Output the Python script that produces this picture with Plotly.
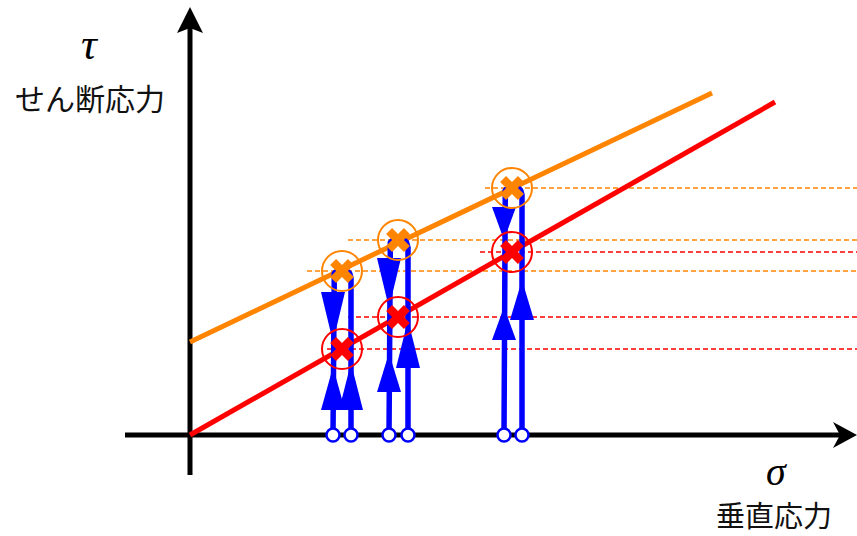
import numpy as np
import plotly.graph_objects as go

# ---- data (diagram units: origin at axis crossing, 1 unit ~ 1 px) ----
sigma_pts = [152, 208, 322]          # normal stress of the three states
tau_red = [86, 118, 183]             # failure envelope (red) points
tau_orange = [164, 195, 247]         # failure envelope (orange) points
red_line_x = [0, 585]
red_line_y = [0, 333]
orange_line_x = [0, 522]
orange_line_y = [93, 342]

loop_left = [143, 199, 314]
loop_right = [161, 218, 332]
loop_top = [166, 197, 249]

# arrow triangles: (x, base, tip)
down_arrows = [(143, 143, 93), (199, 177, 127), (314, 228, 195)]
up_arrows = [(143, 25, 68), (161, 25, 72), (199, 43, 82), (218, 67, 115),
             (314, 95, 128), (332, 115, 155)]

orange_dash_start = [117, 158, 295]
red_dash_start = [137, 158, 290]
dash_end = 667

ORANGE = '#FF8400'
RED = '#FF0000'
BLUE = '#0000FF'

fig = go.Figure()

# dashed guide lines
for y, xs in zip(tau_orange, orange_dash_start):
    fig.add_trace(go.Scatter(x=[xs, dash_end], y=[y, y], mode='lines',
                             line=dict(color=ORANGE, width=1.5, dash='5px,3px'),
                             hoverinfo='skip'))
for y, xs in zip(tau_red, red_dash_start):
    fig.add_trace(go.Scatter(x=[xs, dash_end], y=[y, y], mode='lines',
                             line=dict(color=RED, width=1.5, dash='5px,3px'),
                             hoverinfo='skip'))

# axes
fig.add_trace(go.Scatter(x=[-65, 650], y=[0, 0], mode='lines',
                         line=dict(color='black', width=5), hoverinfo='skip'))
fig.add_trace(go.Scatter(x=[0, 0], y=[-40, 408], mode='lines',
                         line=dict(color='black', width=5), hoverinfo='skip'))
# arrowheads
fig.add_trace(go.Scatter(x=[667, 643, 650, 643, 667], y=[0, 13, 0, -13, 0],
                         mode='lines', fill='toself', fillcolor='black',
                         line=dict(width=0, color='black'), hoverinfo='skip'))
fig.add_trace(go.Scatter(x=[0, -13, 0, 13, 0], y=[428, 402, 407, 402, 428],
                         mode='lines', fill='toself', fillcolor='black',
                         line=dict(width=0, color='black'), hoverinfo='skip'))

# envelopes
fig.add_trace(go.Scatter(x=orange_line_x, y=orange_line_y, mode='lines',
                         line=dict(color=ORANGE, width=5), hoverinfo='skip'))
fig.add_trace(go.Scatter(x=red_line_x, y=red_line_y, mode='lines',
                         line=dict(color=RED, width=5), hoverinfo='skip'))

# blue loops
for xl, xr, top in zip(loop_left, loop_right, loop_top):
    r = (xr - xl) / 2
    xc = (xl + xr) / 2
    cy = top - r
    th = np.linspace(np.pi, 0, 30)
    xs = [xl] + list(xc + r * np.cos(th)) + [xr]
    ys = [0] + list(cy + r * np.sin(th)) + [0]
    fig.add_trace(go.Scatter(x=xs, y=ys, mode='lines',
                             line=dict(color=BLUE, width=5.5), hoverinfo='skip'))

HW = 12
for xc, base, tip in down_arrows + up_arrows:
    fig.add_trace(go.Scatter(x=[xc - HW, xc + HW, xc, xc - HW],
                             y=[base, base, tip, base], mode='lines',
                             fill='toself', fillcolor=BLUE,
                             line=dict(width=0, color=BLUE), hoverinfo='skip'))

# bottom circles
fig.add_trace(go.Scatter(x=loop_left + loop_right, y=[0] * 6, mode='markers',
                         marker=dict(symbol='circle', size=13, color='white',
                                     line=dict(color=BLUE, width=2.5)),
                         hoverinfo='skip'))

# X markers
fig.add_trace(go.Scatter(x=sigma_pts, y=tau_orange, mode='markers',
                         marker=dict(symbol='x', size=21, color=ORANGE,
                                     line=dict(width=0)), hoverinfo='skip'))
fig.add_trace(go.Scatter(x=sigma_pts, y=tau_red, mode='markers',
                         marker=dict(symbol='x', size=21, color=RED,
                                     line=dict(width=0)), hoverinfo='skip'))

# rings around the points
RING = 20
shapes = []
for sx, ty in zip(sigma_pts, tau_orange):
    shapes.append(dict(type='circle', xref='x', yref='y',
                       x0=sx - RING, x1=sx + RING, y0=ty - RING, y1=ty + RING,
                       line=dict(color=ORANGE, width=2)))
for sx, ty in zip(sigma_pts, tau_red):
    shapes.append(dict(type='circle', xref='x', yref='y',
                       x0=sx - RING, x1=sx + RING, y0=ty - RING, y1=ty + RING,
                       line=dict(color=RED, width=2)))

JP = 'Noto Sans CJK JP'
SERIF = 'Liberation Serif'
annotations = [
    dict(x=-100, y=391, text='<i>τ</i>', font=dict(family=SERIF, size=44, color='black'),
         yanchor='middle'),
    dict(x=-100, y=338, text='せん断応力', font=dict(family=JP, size=30, color='#111'),
         yanchor='middle'),
    dict(x=586, y=-36, text='<i>σ</i>', font=dict(family=SERIF, size=40, color='black'),
         yanchor='middle'),
    dict(x=584, y=-101, text='垂直応力', font=dict(family=JP, size=29, color='#111'),
         yanchor='bottom'),
]
for a in annotations:
    a.update(xref='x', yref='y', showarrow=False, xanchor='center', borderpad=0)

fig.update_layout(
    width=857, height=536,
    margin=dict(l=0, r=0, t=0, b=0),
    paper_bgcolor='white', plot_bgcolor='white',
    showlegend=False,
    xaxis=dict(range=[-190, 667], visible=False, fixedrange=True),
    yaxis=dict(range=[-101, 435], visible=False, fixedrange=True),
    annotations=annotations,
    shapes=shapes,
)

fig.write_html('out.html')
